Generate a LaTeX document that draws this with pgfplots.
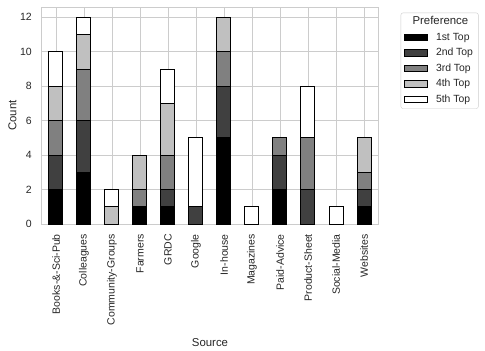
\documentclass[border=0pt]{standalone}
\usepackage{pgfplots}
\pgfplotsset{compat=1.18}
\usepackage{fontspec}
\setmainfont{Liberation Sans}
\definecolor{txt}{gray}{0.15}
\definecolor{gridc}{gray}{0.8}
\definecolor{c1}{gray}{0}
\definecolor{c2}{HTML}{404040}
\definecolor{c3}{HTML}{808080}
\definecolor{c4}{HTML}{C0C0C0}
\definecolor{c5}{gray}{1}
\begin{document}
\begin{tikzpicture}[font=\fontsize{10}{12}\selectfont]
\useasboundingbox (-42pt,-127pt) rectangle (443pt,224pt);
\begin{axis}[
    at={(0,0)}, anchor=south west,
    scale only axis, width=336pt, height=217pt,
    ybar stacked, bar width=0.5,
    xmin=-0.5, xmax=11.5, ymin=0, ymax=12.6,
    xtick={0,...,11},
    xticklabels={Books-\&-Sci-Pub,Colleagues,Community-Groups,Farmers,GRDC,Google,In-house,Magazines,Paid-Advice,Product-Sheet,Social-Media,Websites},
    x tick label style={rotate=90, anchor=east, inner xsep=10pt, font=\fontsize{10.5}{12}\selectfont},
    y tick label style={anchor=east, inner xsep=10pt, font=\fontsize{10.5}{12}\selectfont},
    ytick={0,2,...,12},
    /pgf/number format/assume math mode=true,
    major tick length=0pt,
    tick label style={text=txt},
    label style={text=txt, font=\fontsize{11.4}{13}\selectfont},
    xlabel={Source}, ylabel={Count},
    ylabel style={at={(axis description cs:-0.0878,0.5)}, anchor=center},
    grid=major,
    grid style={gridc, line width=0.8pt},
    axis line style={gridc, line width=1pt},
    every axis plot/.append style={draw=black, line width=1pt},
    legend image code/.code={\draw[#1,draw=black,line width=0.8pt,sharp corners] (0pt,-3.4pt) rectangle (22.7pt,3.4pt);},
    legend style={at={(1.0676,0.9737)}, anchor=north west, draw=gridc, rounded corners=2pt,
        fill=white, text=txt, font=\fontsize{10.4}{12}\selectfont,
        inner xsep=3.3pt, inner ysep=1.3pt, row sep=0pt, column sep=6.3pt,
        nodes={inner xsep=2pt, inner ysep=2.5pt, text height=8pt, text depth=2.5pt}},
    legend cell align=left,
]
\addlegendimage{empty legend}
\addplot[fill=c1] coordinates {(0,2) (1,3) (2,0) (3,1) (4,1) (5,0) (6,5) (7,0) (8,2) (9,0) (10,0) (11,1)};
\addplot[fill=c2] coordinates {(0,2) (1,3) (2,0) (3,0) (4,1) (5,1) (6,3) (7,0) (8,2) (9,2) (10,0) (11,1)};
\addplot[fill=c3] coordinates {(0,2) (1,3) (2,0) (3,1) (4,2) (5,0) (6,2) (7,0) (8,1) (9,3) (10,0) (11,1)};
\addplot[fill=c4] coordinates {(0,2) (1,2) (2,1) (3,2) (4,3) (5,0) (6,2) (7,0) (8,0) (9,0) (10,0) (11,2)};
\addplot[fill=c5] coordinates {(0,2) (1,1) (2,1) (3,0) (4,2) (5,4) (6,0) (7,1) (8,0) (9,3) (10,1) (11,0)};
\legend{\hspace*{-23.5pt}\fontsize{11.4}{13}\selectfont Preference,1st Top,2nd Top,3rd Top,4th Top,5th Top}
\end{axis}
\end{tikzpicture}
\end{document}
